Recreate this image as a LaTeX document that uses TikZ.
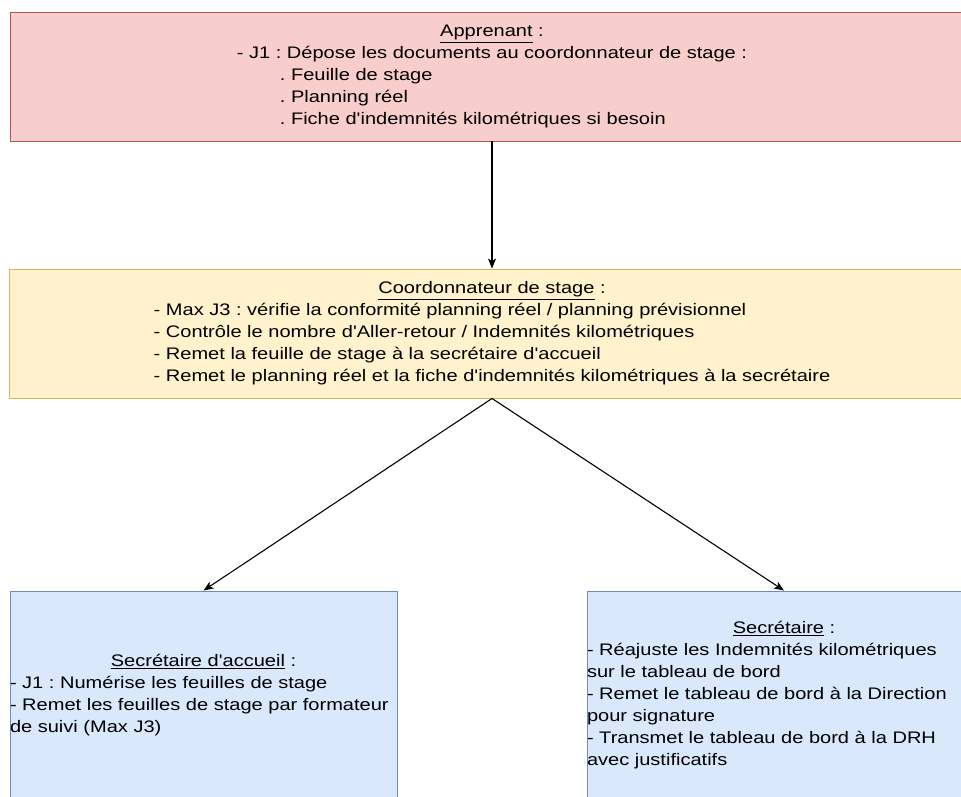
\documentclass[tikz,border=0pt]{standalone}
\usepackage{fontspec}
\setmainfont{Liberation Sans}[FakeStretch=1.2,Ligatures=TeXOff]
\usepackage{tikz}
\usetikzlibrary{arrows.meta}
\frenchspacing

\definecolor{apprfill}{HTML}{F8CECC}
\definecolor{apprline}{HTML}{B85450}
\definecolor{coordfill}{HTML}{FFF2CC}
\definecolor{coordline}{HTML}{D6B656}
\definecolor{secfill}{HTML}{DAE8FC}
\definecolor{secline}{HTML}{6C8EBF}

\begin{document}
\begin{tikzpicture}[x=1pt, y=-1pt,
    box/.style={shape=rectangle, line width=0.9pt, inner sep=0pt,
      font=\fontsize{16.7}{22}\selectfont},
    apprbox/.style={box, draw=apprline, fill=apprfill},
    coordbox/.style={box, draw=coordline, fill=coordfill},
    secbox/.style={box, draw=secline, fill=secfill},
    >={Stealth[length=10pt, width=8pt, inset=2.5pt]}]
    \useasboundingbox (0,0) rectangle (961,797);
    \clip (0,0) rectangle (961,797);

    % apprenant
    \node[apprbox, minimum width=964pt, minimum height=129pt] at (492,76.5) (appr) {%
      \begin{tabular}{@{}l@{}}
        \multicolumn{1}{@{}c@{}}{\underline{Apprenant} :}\\
        - J1 : Dépose les documents au coordonnateur de stage :\\
        \hspace{43pt}. Feuille de stage\\
        \hspace{43pt}. Planning réel\\
        \hspace{43pt}. Fiche d'indemnités kilométriques si besoin
      \end{tabular}};

    % coordonnateur
    \node[coordbox, minimum width=966pt, minimum height=129pt] at (492,333.5) (coord) {%
      \begin{tabular}{@{}l@{}}
        \multicolumn{1}{@{}c@{}}{\underline{Coordonnateur de stage} :}\\
        - Max J3 : vérifie la conformité planning réel / planning prévisionnel\\
        - Contrôle le nombre d'Aller-retour / Indemnités kilométriques\\
        - Remet la feuille de stage à la secrétaire d'accueil\\
        - Remet le planning réel et la fiche d'indemnités kilométriques à la secrétaire
      \end{tabular}};

    % secretaires
    \node[secbox, minimum width=387pt, minimum height=208pt] at (203.5,695) (secacc) {%
      \begin{tabular}{@{}l@{}}
        \multicolumn{1}{@{}c@{}}{\makebox[387pt]{\underline{Secrétaire d'accueil} :}}\\
        - J1 : Numérise les feuilles de stage\\
        - Remet les feuilles de stage par formateur\\
        de suivi (Max J3)
      \end{tabular}};
    \node[secbox, minimum width=394pt, minimum height=208pt] at (784,695) (secr) {%
      \begin{tabular}{@{}l@{}}
        \multicolumn{1}{@{}c@{}}{\makebox[394pt]{\underline{Secrétaire} :}}\\
        - Réajuste les Indemnités kilométriques\\
        sur le tableau de bord\\
        - Remet le tableau de bord à la Direction\\
        pour signature\\
        - Transmet le tableau de bord à la DRH\\
        avec justificatifs
      \end{tabular}};

    \path [->, line width=1.1pt] (appr.south) edge (coord.north);
    \path [->, line width=1.1pt] (coord.south) edge (secacc.north);
    \path [->, line width=1.1pt] (coord.south) edge (secr.north);
\end{tikzpicture}
\end{document}
